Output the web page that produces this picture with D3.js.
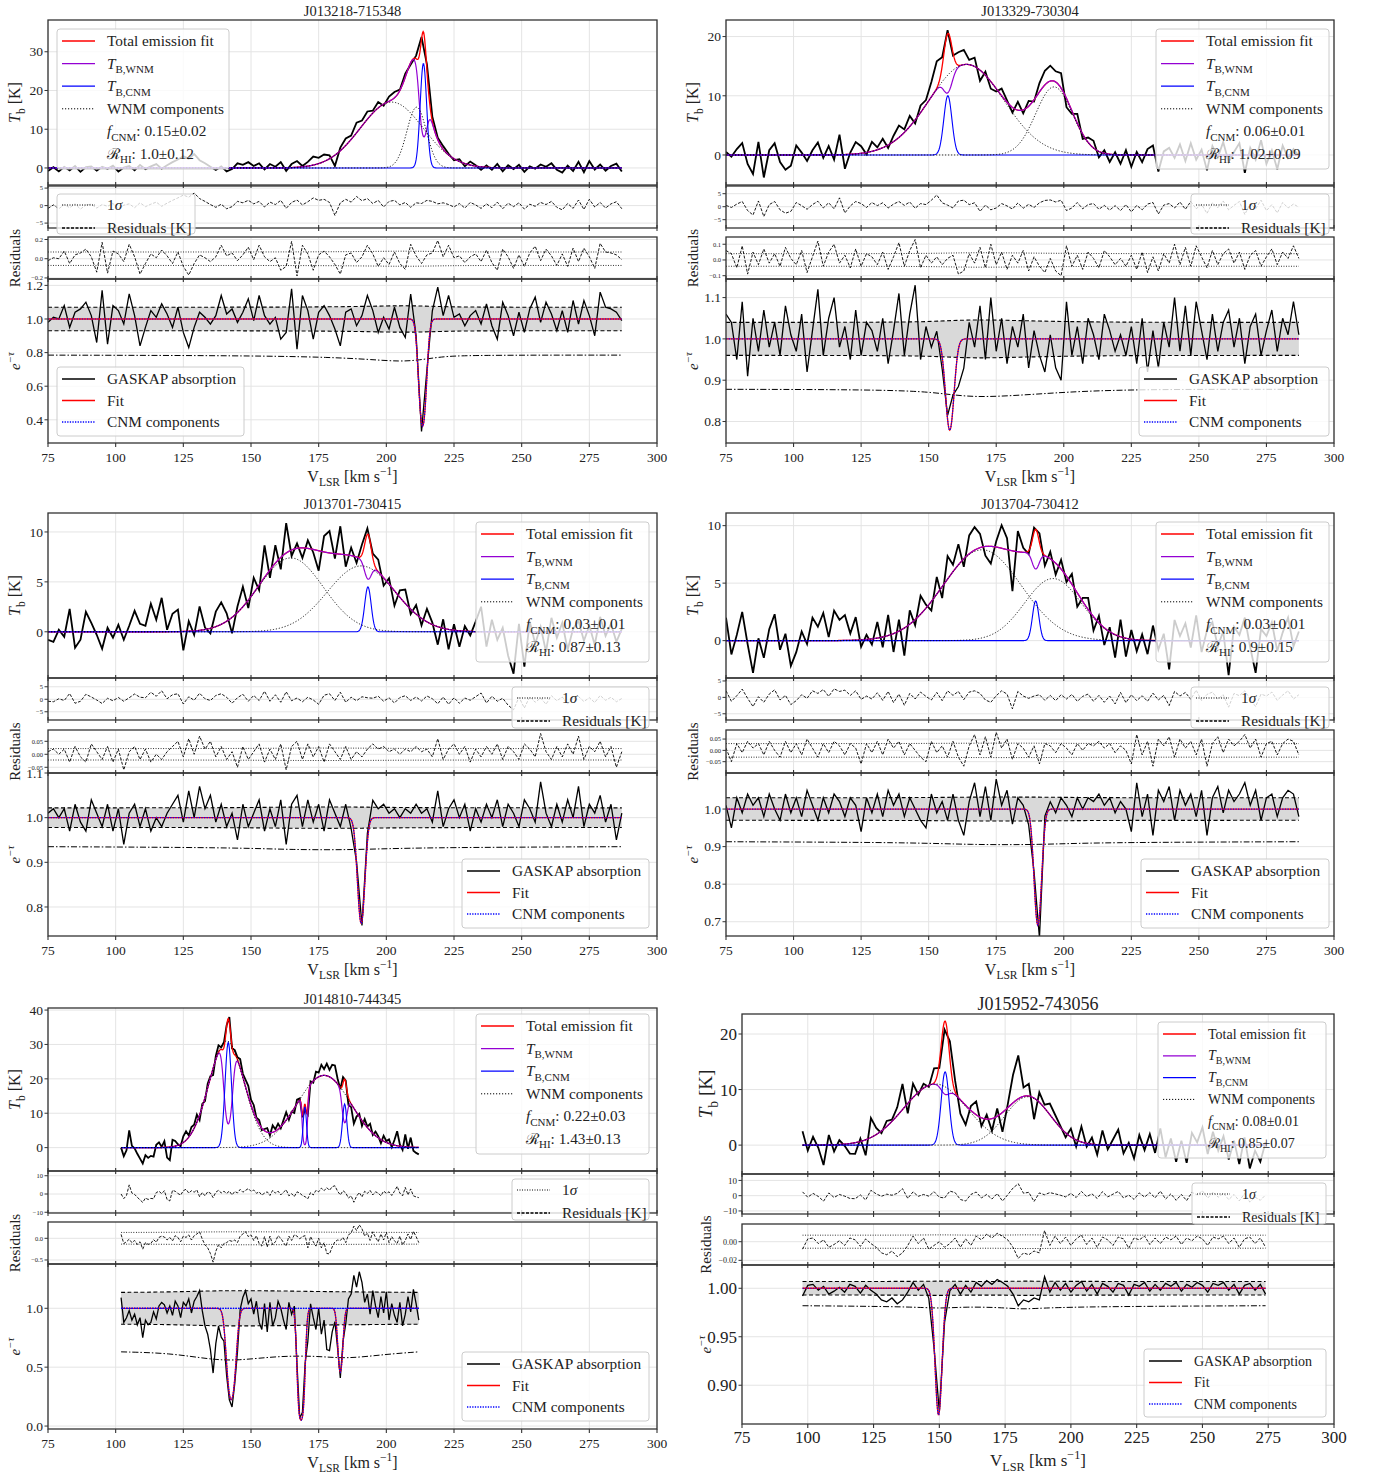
<!DOCTYPE html>
<html>
<head>
<meta charset="utf-8">
<script src="https://cdn.jsdelivr.net/npm/d3@7"></script>
<style>
  body { margin: 0; background: #fff; }
  svg text { font-family: "Liberation Serif", "DejaVu Serif", serif; fill: #222; }
</style>
</head>
<body>
<div id="chart"></div>
<script>
// ---------- data ----------
const titles = ["J013218-715348", "J013329-730304", "J013701-730415", "J013704-730412", "J014810-744345", "J015952-743056"];
const fcnmText = ["0.15±0.02", "0.06±0.01", "0.03±0.01", "0.03±0.01", "0.22±0.03", "0.08±0.01"];
const rhiText = ["1.0±0.12", "1.02±0.09", "0.87±0.13", "0.9±0.15", "1.43±0.13", "0.85±0.07"];

const xTicks = [75, 100, 125, 150, 175, 200, 225, 250, 275, 300];
const emTicks = [[0, 10, 20, 30], [0, 10, 20], [0, 5, 10], [0, 5, 10], [0, 10, 20, 30, 40], [0, 10, 20]];
const res1Ticks = [[-5, 0, 5], [-5, 0, 5], [-5, 0, 5], [-5, 0, 5], [-10, 0, 10], [-10, 0, 10]];
const res2Ticks = [[-0.2, 0, 0.2], [-0.1, 0, 0.1], [-0.05, 0, 0.05], [-0.05, 0, 0.05], [-0.5, 0], [-0.02, 0]];
const absTicks = [[0.4, 0.6, 0.8, 1.0, 1.2], [0.8, 0.9, 1.0, 1.1], [0.8, 0.9, 1.0, 1.1], [0.7, 0.8, 0.9, 1.0], [0, 0.5, 1.0], [0.90, 0.95, 1.00]];

// first channel and channel width (km/s) of each spectrum
const vStart = [75, 75, 75, 75, 102, 98];
const vStep = [2, 2, 2, 2, 1, 2];
// fraction of WNM in front of the CNM
const wnmFront = [0, 0, 0, 0.42, 0, 0];

// Gaussian components: WNM (emission only) and CNM (emission + absorption)
const p1WnmAmp = [17, 15.7], p1WnmV0 = [202, 211.2], p1WnmSig = [11.6, 3.6];
const p1CnmTb = [27], p1CnmV0 = [213.7], p1CnmSig = [1.2], p1CnmTau = [1.02], p1CnmAbsV0 = [213.4], p1CnmAbsSig = [1.2];
const p2WnmAmp = [15.3, 11.5], p2WnmV0 = [164, 196.4], p2WnmSig = [13.8, 6.8];
const p2CnmTb = [10.0], p2CnmV0 = [157.1], p2CnmSig = [1.5], p2CnmTau = [0.25], p2CnmAbsV0 = [157.8], p2CnmAbsSig = [1.5];
const p3WnmAmp = [7.4, 6.6], p3WnmV0 = [164.7, 190.7], p3WnmSig = [12, 12.5];
const p3CnmTb = [4.5], p3CnmV0 = [193.2], p3CnmSig = [1.2], p3CnmTau = [0.27], p3CnmAbsV0 = [190.7], p3CnmAbsSig = [1.3];
const p4WnmAmp = [7.9, 5.4], p4WnmV0 = [169.8, 196], p4WnmSig = [14.5, 10.5];
const p4CnmTb = [3.45], p4CnmV0 = [189.6], p4CnmSig = [1.2], p4CnmTau = [0.37], p4CnmAbsV0 = [190.4], p4CnmAbsSig = [1.3];
const p5WnmAmp = [31, 21], p5WnmV0 = [141, 177], p5WnmSig = [6.5, 10];
const p5CnmTb = [30.6, 11.9, 12.7], p5CnmV0 = [141.6, 169.9, 184.6], p5CnmSig = [1.2, 0.6, 0.8];
const p5CnmTau = [1.5, 3.0, 0.78], p5CnmAbsV0 = [142.7, 168.5, 183], p5CnmAbsSig = [1.3, 0.9, 0.8];
const p6WnmAmp = [11, 8.7], p6WnmV0 = [148.5, 183.6], p6WnmSig = [12, 8.7];
const p6CnmTb = [13.2], p6CnmV0 = [152.2], p6CnmSig = [1.5], p6CnmTau = [0.14], p6CnmAbsV0 = [149.7], p6CnmAbsSig = [1.3];

// emission residuals [K] (data - total fit), one per channel
const p1EmRes = [-0.8, 0.2, -0.9, 0.3, -0.6, 0.5, -1.0, 0.2, 0.4, -0.7,
  0.3, -0.2, 0.6, -0.9, 0.1, 0.5, -0.6, 0.8, -0.3, 0.4,
  1.0, -0.2, 0.7, 1.5, 2.2, 3.0, 2.4, 3.6, 2.0, 1.2,
  0.3, -0.5, 0.4, -0.9, -0.3, 1.2, 0.8, 1.5, 0.5, 1.2,
  -0.4, 1.0, 0.3, 1.5, -0.8, 0.9, 1.6, 0.2, 1.1, 2.2,
  1.5, 1.8, 0.9, -2.8, 0.8, 1.8, 1.0, 2.6, 1.4, 2.0,
  0.6, 1.5, -0.4, 1.2, 1.5, 0.2, 0.9, -0.5, 0.8, 0.6,
  1.5, 1.2, 0.5, 0.8, 0.3, -0.4, 0.6, -0.7, 0.9, 0.2,
  -0.8, 0.5, -0.6, 1.0, -0.9, 0.7, -0.3, 0.8, -1.0, 0.4,
  -0.2, 0.9, 0.3, 1.2, -0.5, -1.2, 0.6, -0.8, 1.6, -1.1,
  1.8, -0.4, 0.9, -0.7, 0.5, 1.1, -0.9];
const p2EmRes = [0.5, -0.3, 1.0, 2.0, -1.5, -3.2, 2.2, -3.8, 0.8, 2.0,
  -1.2, -2.5, -1.8, 1.6, 0.4, -1.0, 0.8, 2.1, -0.5, 1.5,
  -0.8, 3.4, -2.4, 0.3, 2.0, 1.2, -0.3, 1.6, 0.4, 1.5,
  -0.5, 1.0, 2.0, 0.5, 1.8, -0.6, 1.2, 0.8, 2.5, 4.5,
  1.5, 0.6, -0.5, 2.2, 2.5, 0.8, 1.5, -1.8, 0.6, -1.2,
  -0.5, 1.2, 0.3, -0.9, 1.4, -0.6, 0.9, -0.3, 1.5, 2.4,
  2.6, 1.8, 2.5, -1.5, -0.5, 1.6, -0.8, 0.8, 1.2, -1.0,
  0.5, -1.3, 0.4, -1.5, 0.8, -2.0, 0.5, -1.2, 1.0, 1.6,
  -2.8, 0.6, 1.2, -0.5, 1.8, -1.0, 2.0, -0.8, 0.9, -2.6,
  1.5, -0.4, 2.2, -1.2, 0.5, 2.0, -3.0, 1.2, -0.8, 2.5,
  -1.5, 0.8, -2.4, 1.6, -0.5, 1.0, -0.2];
const p3EmRes = [-0.8, -1.0, 0.2, -0.5, 2.3, -1.6, -0.8, 2.0, 0.9, -0.3,
  -1.7, 0.4, -0.6, 0.7, -0.8, 0.6, 2.1, 0.8, 0.6, 2.8,
  1.2, 3.4, 0.2, 1.8, 2.2, -1.9, 1.0, -0.4, 2.4, 0.2,
  -0.5, 1.5, 2.2, 0.8, -1.6, 0.6, 2.0, -0.8, 1.5, -0.5,
  3.2, -0.8, 1.8, -1.2, 3.0, -0.6, 0.5, -1.0, 0.8, -0.3,
  -2.0, 1.6, 2.2, -0.5, 2.8, -1.2, 0.8, -0.6, 1.0, 0.6,
  0.4, 1.2, -0.8, 0.6, -1.5, 0.7, 1.4, -0.5, 0.9, -0.7,
  1.3, 0.2, -1.8, 0.9, -2.0, 0.6, -1.6, 0.5, -0.4, 1.0,
  2.5, -1.5, 1.2, -0.8, 0.4, -2.4, -4.2, 0.8, -3.5, 1.0,
  -1.2, 0.5, -2.0, 1.4, -0.6, 0.9, -1.8, 0.3, 1.1, -0.9,
  0.6, -1.3, 1.5, -0.4, 0.8, -1.0, 0.3];
const p4EmRes = [2.0, -1.2, 0.5, 2.5, -0.3, -2.8, 0.2, -1.5, 1.0, 2.3,
  -0.8, 0.6, -2.2, -1.0, 0.8, -0.3, 2.0, 1.2, 2.4, 0.3,
  2.6, 1.8, 2.2, 0.6, 2.0, -0.6, 0.4, -0.5, 1.4, -0.9,
  1.8, -1.6, 1.0, -2.4, 1.2, -0.5, 1.6, 0.3, -0.8, 1.5,
  -1.0, 2.0, 0.6, 1.8, -0.7, 1.6, 2.0, 1.2, -0.8, -1.5,
  0.5, 2.0, 1.0, -3.5, 1.8, 0.4, -0.3, 0.4, 0.8, -0.9,
  0.6, -1.0, 0.8, -0.5, 0.9, -1.2, 0.3, 1.0, -1.2, 0.6,
  -1.5, 0.4, -2.0, 1.5, -1.6, 0.8, -1.0, 0.5, -1.2, 1.3,
  -0.8, 0.6, -2.5, 1.8, 0.4, 1.5, -0.6, 2.2, -1.0, 0.9,
  1.6, -0.5, 0.8, -3.0, 1.2, 0.5, 2.0, -0.6, -2.8, 1.0,
  0.4, 1.6, -0.9, 0.7, 2.0, -0.5, 0.8];
const p5EmRes = [0.0, -2.5, -0.8, 5.0, 0.5, -0.2, -1.8, -3.2, -4.6, -2.2,
  -3.0, -2.4, -2.6, 0.8, 1.5, 0.2, 1.8, -3.0, -3.8, 2.0,
  1.5, 0.3, -0.6, 1.8, 2.6, 0.5, 1.8, 1.0, 2.2, -1.5,
  0.8, -1.0, 1.2, 0.5, -2.0, 1.0, 2.0, 0.6, 1.5, 0.3,
  1.6, -0.5, 1.4, 0.6, 2.5, 1.0, 2.0, 3.0, 1.5, 2.2,
  0.4, 1.2, -0.6, 0.5, 1.2, -0.8, 2.0, 0.5, 1.6, -0.5,
  1.0, 2.3, -1.0, 0.2, -1.4, 1.2, 0.5, -0.8, -1.5, -2.6,
  0.8, -0.5, 2.0, 1.2, 3.2, 1.8, 3.5, 2.0, 4.0, 4.5,
  1.5, -0.5, 1.8, 0.6, -2.2, -1.0, -4.5, -1.2, 0.8, -1.6,
  1.5, 0.3, 2.0, -0.5, 1.2, 0.5, -1.0, 1.6, 0.4, 1.2,
  -0.8, 1.5, 4.2, 0.5, -1.0, 3.6, -0.5, 2.8, -1.0, -1.6,
  -2.0];
const p6EmRes = [2.5, -1.0, 1.5, -0.5, -3.6, 1.8, -1.2, 0.8, -0.3, -1.8,
  -2.0, 0.5, -2.8, 3.5, 1.2, -0.4, 1.0, 0.3, 1.5, 4.6,
  -1.8, 2.5, -0.4, 0.8, -0.3, 2.6, -1.0, -1.5, 3.0, 2.0,
  -2.5, -3.5, 0.8, 2.4, -1.5, 0.8, -2.2, 1.4, -3.5, 0.6,
  5.0, 7.8, 1.6, 2.2, -3.8, 1.8, 0.6, 2.0, 1.2, 0.3,
  -0.8, 1.5, -1.2, 2.8, -0.6, 1.2, -1.8, 2.6, -0.8, 1.0,
  2.8, -1.5, 0.4, -2.4, 1.8, -0.9, 2.0, -1.4, 3.0, -2.2,
  1.2, -3.0, 0.8, -3.2, 2.2, 0.5, 3.2, -1.6, 2.4, -1.0,
  1.6, -2.6, 0.8, -3.4, 1.4, -4.2, -1.0, -3.0, 0.5];

// absorption residuals (data - fit in e^-tau), one per channel
const p1AbsRes = [-0.02, 0.01, 0.00, 0.08, -0.05, 0.04, 0.06, 0.10, 0.02, -0.14,
  0.17, -0.15, 0.08, 0.05, -0.03, 0.15, 0.02, -0.16, -0.05, 0.05,
  0.01, 0.09, 0.03, -0.05, 0.07, -0.08, -0.17, -0.05, 0.04, 0.01,
  -0.03, 0.02, 0.14, 0.03, 0.06, -0.02, 0.04, 0.12, -0.01, 0.14,
  0.02, -0.03, 0.01, -0.12, -0.08, 0.18, -0.18, 0.14, 0.05, -0.12,
  0.04, 0.08, 0.02, -0.06, -0.16, 0.04, 0.06, -0.04, 0.02, 0.14,
  0.05, -0.08, 0.01, -0.06, 0.07, -0.05, -0.11, 0.15, 0.03, -0.05,
  0.04, 0.06, 0.19, 0.02, 0.14, 0.01, 0.03, -0.04, 0.02, 0.05,
  -0.03, 0.09, -0.04, -0.12, 0.10, 0.02, -0.10, 0.04, -0.08, 0.06,
  0.13, -0.02, 0.10, 0.03, -0.07, 0.05, -0.08, 0.11, -0.03, 0.11,
  0.02, -0.10, 0.16, 0.07, 0.06, 0.04, -0.01];
const p2AbsRes = [0.06, 0.04, -0.05, 0.09, -0.09, 0.05, -0.03, 0.07, -0.02, 0.04,
  -0.04, 0.08, 0.01, -0.03, 0.06, -0.08, 0.02, 0.12, -0.04, 0.05,
  0.10, -0.02, 0.03, -0.05, 0.07, -0.04, 0.04, 0.02, -0.03, 0.05,
  -0.06, 0.02, 0.11, -0.04, 0.06, 0.13, -0.05, 0.03, -0.02, 0.02,
  -0.03, 0.01, 0.03, -0.09, -0.07, 0.04, -0.02, 0.08, -0.05, 0.10,
  -0.03, 0.05, -0.06, 0.03, -0.02, 0.06, -0.07, 0.02, -0.04, -0.08,
  0.01, -0.07, -0.10, 0.09, -0.04, 0.03, -0.06, 0.05, 0.01, -0.05,
  0.06, 0.02, -0.03, 0.01, -0.04, 0.03, -0.06, 0.05, -0.08, 0.02,
  -0.07, 0.04, -0.02, 0.10, -0.03, 0.08, -0.04, 0.09, 0.02, -0.05,
  0.06, -0.03, 0.04, 0.07, -0.02, 0.05, -0.06, 0.03, 0.06, -0.04,
  0.02, 0.07, -0.03, 0.05, 0.01, 0.09, 0.01];
const p3AbsRes = [0.01, 0.02, 0.00, 0.02, -0.03, 0.03, -0.01, -0.03, 0.04, 0.01,
  -0.02, 0.03, -0.03, 0.02, -0.06, 0.01, 0.03, -0.02, 0.02, -0.03,
  0.00, -0.02, 0.01, 0.03, 0.05, -0.01, 0.06, 0.00, 0.07, 0.02,
  0.05, -0.01, 0.03, -0.02, 0.01, -0.05, 0.03, -0.02, 0.01, 0.04,
  -0.03, 0.02, -0.02, 0.04, -0.06, 0.03, 0.05, -0.02, 0.04, -0.01,
  0.03, -0.03, 0.04, 0.01, -0.02, 0.03, -0.02, 0.01, -0.01, 0.02,
  0.04, 0.02, 0.03, 0.01, 0.02, 0.00, 0.02, 0.01, 0.03, 0.01,
  0.02, -0.01, 0.06, -0.02, 0.02, 0.04, 0.00, 0.03, -0.03, 0.02,
  -0.01, 0.03, 0.00, 0.04, -0.02, 0.03, 0.01, -0.02, 0.04, 0.02,
  -0.01, 0.08, 0.01, -0.02, 0.03, -0.01, 0.04, 0.00, 0.07, -0.02,
  0.03, 0.01, 0.05, -0.01, 0.03, -0.05, 0.01];
const p4AbsRes = [0.01, -0.05, 0.03, -0.01, 0.04, 0.01, 0.03, -0.02, 0.04, 0.00,
  -0.03, 0.04, -0.01, 0.03, -0.02, 0.05, 0.01, -0.03, 0.03, -0.01,
  0.04, 0.02, -0.02, 0.03, 0.01, -0.06, 0.03, -0.01, 0.04, -0.02,
  0.05, 0.01, 0.04, -0.02, 0.03, 0.00, -0.03, -0.05, 0.04, -0.01,
  0.02, -0.03, 0.04, -0.03, -0.07, 0.02, 0.07, -0.02, 0.06, -0.03,
  0.08, 0.01, 0.05, -0.04, 0.03, 0.01, -0.03, 0.02, -0.06, 0.03,
  0.02, -0.01, 0.03, 0.01, -0.02, 0.03, 0.00, 0.03, 0.02, 0.04,
  0.01, 0.03, -0.01, 0.02, 0.00, -0.06, 0.07, -0.02, 0.04, -0.07,
  0.05, 0.02, 0.06, -0.03, 0.05, 0.01, 0.04, -0.02, 0.05, -0.07,
  0.03, 0.06, -0.01, 0.05, 0.02, 0.04, 0.07, 0.01, 0.05, -0.03,
  0.03, 0.04, -0.02, 0.03, 0.05, 0.04, -0.02];
const p5AbsRes = [0.09, -0.12, -0.08, -0.02, -0.10, -0.05, -0.14, -0.08, -0.25, -0.10,
  -0.14, -0.12, -0.03, -0.09, 0.02, 0.05, 0.03, -0.04, 0.02, -0.06,
  0.06, 0.02, -0.08, 0.05, 0.02, 0.08, -0.04, 0.06, 0.10, 0.15,
  -0.02, -0.15, -0.22, -0.35, -0.55, -0.30, -0.15, -0.22, -0.12, -0.10,
  -0.05, -0.07, -0.04, -0.10, 0.05, 0.10, 0.15, 0.04, 0.08, -0.05,
  0.06, -0.12, -0.18, 0.04, -0.20, 0.05, -0.15, -0.08, 0.06, 0.00,
  -0.10, -0.18, 0.05, -0.05, 0.08, 0.05, -0.01, 0.04, 0.06, -0.22,
  0.04, -0.08, -0.18, 0.00, -0.22, -0.10, -0.35, -0.36, -0.20, -0.08,
  -0.04, -0.05, 0.02, -0.10, 0.08, 0.12, 0.28, 0.18, 0.31, 0.22,
  0.05, 0.12, -0.05, 0.15, 0.02, -0.08, 0.10, -0.04, 0.14, -0.10,
  0.04, -0.06, -0.12, 0.05, -0.15, -0.05, 0.10, -0.03, 0.16, 0.04,
  -0.10];
const p6AbsRes = [-0.008, 0.003, 0.004, -0.002, 0.002, -0.006, -0.003, 0.001, -0.004, 0.004,
  0.002, -0.005, 0.003, -0.002, -0.006, -0.012, -0.014, -0.010, -0.016, -0.012,
  -0.004, 0.006, -0.002, 0.004, -0.008, -0.004, 0.000, -0.006, -0.002, 0.004,
  -0.006, 0.003, -0.004, 0.006, 0.002, 0.008, 0.004, 0.009, 0.006, 0.002,
  -0.006, -0.018, -0.012, -0.014, -0.010, -0.012, 0.012, -0.004, 0.006, -0.002,
  0.005, -0.004, 0.003, 0.007, -0.003, 0.004, -0.006, 0.005, 0.002, -0.004,
  0.005, 0.003, -0.007, 0.004, 0.002, 0.006, -0.003, 0.004, -0.002, 0.005,
  0.002, 0.006, -0.003, 0.004, 0.001, 0.006, 0.003, -0.004, 0.005, 0.003,
  0.006, -0.002, 0.004, -0.006, 0.003, 0.005, -0.002, 0.004, -0.006];

// absorption noise envelope: 1-sigma and the dash-dot floor, at a few velocities
const p1SigV = [75, 150, 180, 195, 205, 212, 220, 230, 287];
const p1Sig = [0.07, 0.07, 0.072, 0.076, 0.079, 0.078, 0.074, 0.07, 0.07];
const p1Floor = [0.785, 0.782, 0.772, 0.758, 0.747, 0.755, 0.775, 0.785, 0.785];
const p2SigV = [75, 140, 155, 167, 185, 200, 225, 287];
const p2Sig = [0.04, 0.04, 0.043, 0.047, 0.044, 0.042, 0.04, 0.04];
const p2Floor = [0.878, 0.877, 0.868, 0.858, 0.864, 0.871, 0.878, 0.878];
const p3SigV = [75, 145, 165, 190, 210, 287];
const p3Sig = [0.022, 0.022, 0.024, 0.024, 0.022, 0.022];
const p3Floor = [0.935, 0.933, 0.928, 0.928, 0.933, 0.935];
const p4SigV = [75, 145, 165, 192, 210, 287];
const p4Sig = [0.03, 0.03, 0.032, 0.032, 0.03, 0.03];
const p4Floor = [0.913, 0.911, 0.905, 0.905, 0.911, 0.913];
const p5SigV = [102, 120, 135, 145, 160, 175, 185, 200, 212];
const p5Sig = [0.135, 0.138, 0.148, 0.15, 0.148, 0.142, 0.14, 0.137, 0.135];
const p5Floor = [0.63, 0.62, 0.565, 0.555, 0.595, 0.595, 0.57, 0.61, 0.63];
const p6SigV = [98, 140, 150, 160, 175, 182, 195, 274];
const p6Sig = [0.007, 0.007, 0.0075, 0.007, 0.007, 0.0075, 0.007, 0.007];
const p6Floor = [0.982, 0.981, 0.979, 0.981, 0.98, 0.978, 0.981, 0.982];

// ---------- layout ----------
const layout = [
  { x0: 48, x1: 657, em: [20, 185], r1: [186, 228], r2: [237, 279], ab: [279, 443],
    emDom: [-4.4, 38.2], r1Dom: [-6.4, 5.6], r2Dom: [-0.211, 0.226], abDom: [0.262, 1.238], r2Fmt: ".1f", abFmt: ".1f",
    legEm: [57, 29, 172, 140], legR: [57, 194, 138, 40], legA: [57, 367, 187, 69], labX: 15, big: false },
  { x0: 726, x1: 1334, em: [20, 185], r1: [186, 228], r2: [237, 279], ab: [279, 443],
    emDom: [-5.07, 22.8], r1Dom: [-8.2, 7.96], r2Dom: [-0.121, 0.146], abDom: [0.748, 1.145], r2Fmt: ".1f", abFmt: ".1f",
    legEm: [1156, 29, 173, 140], legR: [1191, 194, 138, 40], legA: [1139, 367, 190, 69], labX: 693, big: false },
  { x0: 48, x1: 657, em: [513, 678], r1: [678, 720], r2: [730, 773], ab: [773, 936],
    emDom: [-4.63, 11.9], r1Dom: [-8.3, 8.5], r2Dom: [-0.072, 0.0935], abDom: [0.735, 1.1], r2Fmt: ".2f", abFmt: ".1f",
    legEm: [476, 522, 173, 140], legR: [512, 687, 137, 41], legA: [462, 859, 187, 69], labX: 15, big: false },
  { x0: 726, x1: 1334, em: [513, 678], r1: [678, 720], r2: [730, 773], ab: [773, 936],
    emDom: [-3.25, 11.1], r1Dom: [-6.9, 5.9], r2Dom: [-0.1, 0.09], abDom: [0.662, 1.096], r2Fmt: ".2f", abFmt: ".1f",
    legEm: [1156, 522, 173, 140], legR: [1191, 687, 138, 41], legA: [1141, 859, 188, 69], labX: 693, big: false },
  { x0: 48, x1: 657, em: [1008, 1171], r1: [1171, 1213], r2: [1222, 1264], ab: [1264, 1429],
    emDom: [-6.8, 40.6], r1Dom: [-10.4, 12.6], r2Dom: [-0.593, 0.376], abDom: [-0.025, 1.376], r2Fmt: ".1f", abFmt: ".1f",
    legEm: [476, 1014, 173, 140], legR: [512, 1179, 137, 41], legA: [462, 1352, 187, 69], labX: 15, big: false },
  { x0: 742, x1: 1334, em: [1014, 1174], r1: [1174, 1214], r2: [1224, 1265], ab: [1265, 1424],
    emDom: [-5.2, 23.6], r1Dom: [-12, 14.2], r2Dom: [-0.025, 0.019], abDom: [0.860, 1.024], r2Fmt: ".2f", abFmt: ".2f",
    legEm: [1158, 1022, 168, 136], legR: [1192, 1183, 134, 41], legA: [1144, 1349, 182, 68], labX: 706, big: true }
];

const models = [
  { wAmp: p1WnmAmp, wV0: p1WnmV0, wSig: p1WnmSig, cTb: p1CnmTb, cV0: p1CnmV0, cSig: p1CnmSig, cTau: p1CnmTau, cAbsV0: p1CnmAbsV0, cAbsSig: p1CnmAbsSig, emRes: p1EmRes, absRes: p1AbsRes, sigV: p1SigV, sig: p1Sig, floor: p1Floor },
  { wAmp: p2WnmAmp, wV0: p2WnmV0, wSig: p2WnmSig, cTb: p2CnmTb, cV0: p2CnmV0, cSig: p2CnmSig, cTau: p2CnmTau, cAbsV0: p2CnmAbsV0, cAbsSig: p2CnmAbsSig, emRes: p2EmRes, absRes: p2AbsRes, sigV: p2SigV, sig: p2Sig, floor: p2Floor },
  { wAmp: p3WnmAmp, wV0: p3WnmV0, wSig: p3WnmSig, cTb: p3CnmTb, cV0: p3CnmV0, cSig: p3CnmSig, cTau: p3CnmTau, cAbsV0: p3CnmAbsV0, cAbsSig: p3CnmAbsSig, emRes: p3EmRes, absRes: p3AbsRes, sigV: p3SigV, sig: p3Sig, floor: p3Floor },
  { wAmp: p4WnmAmp, wV0: p4WnmV0, wSig: p4WnmSig, cTb: p4CnmTb, cV0: p4CnmV0, cSig: p4CnmSig, cTau: p4CnmTau, cAbsV0: p4CnmAbsV0, cAbsSig: p4CnmAbsSig, emRes: p4EmRes, absRes: p4AbsRes, sigV: p4SigV, sig: p4Sig, floor: p4Floor },
  { wAmp: p5WnmAmp, wV0: p5WnmV0, wSig: p5WnmSig, cTb: p5CnmTb, cV0: p5CnmV0, cSig: p5CnmSig, cTau: p5CnmTau, cAbsV0: p5CnmAbsV0, cAbsSig: p5CnmAbsSig, emRes: p5EmRes, absRes: p5AbsRes, sigV: p5SigV, sig: p5Sig, floor: p5Floor },
  { wAmp: p6WnmAmp, wV0: p6WnmV0, wSig: p6WnmSig, cTb: p6CnmTb, cV0: p6CnmV0, cSig: p6CnmSig, cTau: p6CnmTau, cAbsV0: p6CnmAbsV0, cAbsSig: p6CnmAbsSig, emRes: p6EmRes, absRes: p6AbsRes, sigV: p6SigV, sig: p6Sig, floor: p6Floor }
];

const RED = "#ff0000", PURPLE = "#9400d3", BLUE = "#0000ff", GRID = "#e4e4e4", SPINE = "#333";

const svg = d3.select("#chart").append("svg")
  .attr("width", 1374).attr("height", 1474);

// text with italic / sub / superscript pieces
function rich(sel, x, y, segs, fs, anchor) {
  const t = sel.append("text").attr("x", x).attr("y", y)
    .attr("font-size", fs).attr("text-anchor", anchor || "start");
  let shift = 0;
  segs.forEach(s => {
    const target = s.sub ? fs * 0.28 : s.sup ? -fs * 0.42 : 0;
    const ts = t.append("tspan").text(s.t).attr("dy", target - shift);
    if (s.sub || s.sup) ts.attr("font-size", fs * 0.72);
    if (s.i) ts.attr("font-style", "italic");
    shift = target;
  });
  return t;
}

function legend(g, box, rows, fs, step, first) {
  const [bx, by, bw, bh] = box;
  const lg = g.append("g");
  lg.append("rect").attr("x", bx).attr("y", by).attr("width", bw).attr("height", bh)
    .attr("rx", 3).attr("fill", "#fff").attr("fill-opacity", 0.8)
    .attr("stroke", "#cccccc").attr("stroke-width", 1);
  rows.forEach((r, i) => {
    const yy = by + first + i * step;
    if (r.stroke) {
      lg.append("line").attr("x1", bx + 5).attr("x2", bx + 38).attr("y1", yy).attr("y2", yy)
        .attr("stroke", r.stroke).attr("stroke-width", r.w || 1.3)
        .attr("stroke-dasharray", r.dash || null);
    }
    rich(lg, bx + 50, yy + fs * 0.33, r.label, fs);
  });
}

let clipId = 0;
function drawPanel(m, L, idx) {
  const g = svg.append("g");
  const fsTick = L.big ? 17 : 13.5, fsSmall = L.big ? 8 : 6.5, fsLab = 16;
  const fsLeg = L.big ? 14 : 15.3;
  const x = d3.scaleLinear().domain([75, 300]).range([L.x0, L.x1]);
  const yE = d3.scaleLinear().domain(L.emDom).range([L.em[1], L.em[0]]);
  const yR1 = d3.scaleLinear().domain(L.r1Dom).range([L.r1[1], L.r1[0]]);
  const yR2 = d3.scaleLinear().domain(L.r2Dom).range([L.r2[1], L.r2[0]]);
  const yA = d3.scaleLinear().domain(L.abDom).range([L.ab[1], L.ab[0]]);

  // spectra and Gaussian model
  const vData = m.emRes.map((_, i) => vStart[idx] + i * vStep[idx]);
  const vLast = vData[vData.length - 1];
  const vFine = d3.range(vStart[idx], vLast + 1e-9, 0.2);
  const gauss = (v, a, c, s) => a * Math.exp(-((v - c) * (v - c)) / (2 * s * s));
  const wnmSum = v => d3.sum(m.wAmp, (a, i) => gauss(v, a, m.wV0[i], m.wSig[i]));
  const tauEm = v => d3.sum(m.cTau, (t, j) => gauss(v, t, m.cV0[j], m.cSig[j]));
  const tbWnm = v => wnmSum(v) * (wnmFront[idx] + (1 - wnmFront[idx]) * Math.exp(-tauEm(v)));
  const tbCnm = v => d3.sum(m.cTb, (a, j) => gauss(v, a, m.cV0[j], m.cSig[j]));
  const total = v => tbWnm(v) + tbCnm(v);
  const tauAb = v => d3.sum(m.cTau, (t, j) => gauss(v, t, m.cAbsV0[j], m.cAbsSig[j]));
  const absFit = v => Math.exp(-tauAb(v));
  const emData = vData.map((v, i) => [v, total(v) + m.emRes[i]]);
  const abData = vData.map((v, i) => [v, absFit(v) + m.absRes[i]]);

  const subs = [
    { r: L.em, y: yE, ticks: emTicks[idx], fmt: d3.format("d"), fs: fsTick },
    { r: L.r1, y: yR1, ticks: res1Ticks[idx], fmt: d => d3.format("d")(d).replace("-", "\u2212"), fs: L.big ? 9 : fsSmall },
    { r: L.r2, y: yR2, ticks: res2Ticks[idx], fmt: d => d3.format(L.r2Fmt)(d).replace("-", "\u2212"), fs: fsSmall },
    { r: L.ab, y: yA, ticks: absTicks[idx], fmt: d3.format(L.abFmt), fs: fsTick }
  ];
  const layers = subs.map(s => {
    const id = "clip" + (clipId++);
    g.append("clipPath").attr("id", id).append("rect")
      .attr("x", L.x0).attr("y", s.r[0]).attr("width", L.x1 - L.x0).attr("height", s.r[1] - s.r[0]);
    // grid
    g.append("g").selectAll("line").data(xTicks).join("line")
      .attr("x1", d => x(d)).attr("x2", d => x(d)).attr("y1", s.r[0]).attr("y2", s.r[1])
      .attr("stroke", GRID).attr("stroke-width", 1);
    g.append("g").selectAll("line").data(s.ticks).join("line")
      .attr("x1", L.x0).attr("x2", L.x1).attr("y1", d => s.y(d)).attr("y2", d => s.y(d))
      .attr("stroke", GRID).attr("stroke-width", 1);
    return g.append("g").attr("clip-path", `url(#${id})`);
  });
  const [gE, gR1, gR2, gA] = layers;

  const lineE = d3.line().x(d => x(d[0])).y(d => yE(d[1]));
  const fn = (f) => vFine.map(v => [v, f(v)]);

  // emission
  gE.append("path").attr("d", lineE(emData)).attr("fill", "none").attr("stroke", "#000").attr("stroke-width", 1.8);
  gE.append("path").attr("d", lineE(fn(total))).attr("fill", "none").attr("stroke", RED).attr("stroke-width", 1.3);
  gE.append("path").attr("d", lineE(fn(tbWnm))).attr("fill", "none").attr("stroke", PURPLE).attr("stroke-width", 1.2);
  gE.append("path").attr("d", lineE(fn(tbCnm))).attr("fill", "none").attr("stroke", BLUE).attr("stroke-width", 1.1);
  m.wAmp.forEach((a, i) => {
    gE.append("path").attr("d", lineE(fn(v => gauss(v, a, m.wV0[i], m.wSig[i]))))
      .attr("fill", "none").attr("stroke", "#000").attr("stroke-width", 0.9).attr("stroke-dasharray", "1.2,1.8");
  });

  // emission residuals
  const lineR1 = d3.line().x(d => x(d[0])).y(d => yR1(d[1]));
  gR1.append("path").attr("d", lineR1(vData.map((v, i) => [v, m.emRes[i]])))
    .attr("fill", "none").attr("stroke", "#000").attr("stroke-width", 0.9).attr("stroke-dasharray", "3,1.5");

  // absorption residuals with +-1 sigma
  const sigAt = m.sigV.map((v, i) => [v, m.sig[i]]);
  const lineR2 = d3.line().x(d => x(d[0])).y(d => yR2(d[1])).curve(d3.curveBasis);
  [1, -1].forEach(sg => {
    gR2.append("path").attr("d", lineR2(sigAt.map(d => [d[0], sg * d[1]])))
      .attr("fill", "none").attr("stroke", "#000").attr("stroke-width", 0.8).attr("stroke-dasharray", "1,1.5");
  });
  gR2.append("path").attr("d", d3.line().x(d => x(d[0])).y(d => yR2(d[1]))(vData.map((v, i) => [v, m.absRes[i]])))
    .attr("fill", "none").attr("stroke", "#000").attr("stroke-width", 0.9).attr("stroke-dasharray", "3,1.5");

  // absorption
  gA.append("path").attr("d", d3.area().x(d => x(d[0])).y0(d => yA(1 - d[1])).y1(d => yA(1 + d[1])).curve(d3.curveBasis)(sigAt))
    .attr("fill", "#d9d9d9");
  const lineAc = d3.line().x(d => x(d[0])).y(d => yA(d[1])).curve(d3.curveBasis);
  [1, -1].forEach(sg => {
    gA.append("path").attr("d", lineAc(sigAt.map(d => [d[0], 1 + sg * d[1]])))
      .attr("fill", "none").attr("stroke", "#000").attr("stroke-width", 1.1).attr("stroke-dasharray", "4,2.5");
  });
  const lineA = d3.line().x(d => x(d[0])).y(d => yA(d[1]));
  gA.append("path").attr("d", lineA(abData)).attr("fill", "none").attr("stroke", "#000").attr("stroke-width", 1.3);
  gA.append("path").attr("d", lineAc(m.sigV.map((v, i) => [v, m.floor[i]])))
    .attr("fill", "none").attr("stroke", "#000").attr("stroke-width", 1).attr("stroke-dasharray", "6,2,1.5,2");
  gA.append("path").attr("d", lineA(fn(absFit))).attr("fill", "none").attr("stroke", RED).attr("stroke-width", 1.3);
  m.cTau.forEach((t, j) => {
    gA.append("path").attr("d", lineA(fn(v => Math.exp(-gauss(v, t, m.cAbsV0[j], m.cAbsSig[j])))))
      .attr("fill", "none").attr("stroke", BLUE).attr("stroke-width", 1.2).attr("stroke-dasharray", "1.3,1.3");
  });

  // spines, ticks, tick labels
  subs.forEach((s, k) => {
    g.append("rect").attr("x", L.x0).attr("y", s.r[0]).attr("width", L.x1 - L.x0).attr("height", s.r[1] - s.r[0])
      .attr("fill", "none").attr("stroke", SPINE).attr("stroke-width", 1.3);
    g.append("g").selectAll("line").data(s.ticks).join("line")
      .attr("x1", L.x0 - 3.5).attr("x2", L.x0).attr("y1", d => s.y(d)).attr("y2", d => s.y(d))
      .attr("stroke", SPINE).attr("stroke-width", 1);
    g.append("g").selectAll("text").data(s.ticks).join("text")
      .attr("x", L.x0 - 5).attr("y", d => s.y(d)).attr("dy", "0.35em")
      .attr("text-anchor", "end").attr("font-size", s.fs).text(s.fmt);
    const outer = k === 3;
    g.append("g").selectAll("line").data(xTicks).join("line")
      .attr("x1", d => x(d)).attr("x2", d => x(d))
      .attr("y1", s.r[1] - (outer ? 0 : 3)).attr("y2", s.r[1] + (outer ? 4 : 3))
      .attr("stroke", SPINE).attr("stroke-width", 1.1);
  });
  g.append("g").selectAll("text").data(xTicks).join("text")
    .attr("x", d => x(d)).attr("y", L.ab[1] + (L.big ? 13 : 14)).attr("dy", "0.35em")
    .attr("text-anchor", "middle").attr("font-size", fsTick).text(d => d);

  // labels
  const cx = (L.x0 + L.x1) / 2;
  g.append("text").attr("x", cx).attr("y", L.em[0] - 4).attr("text-anchor", "middle")
    .attr("font-size", L.big ? 18 : 14.5).text(titles[idx]);
  rich(g, cx, L.ab[1] + (L.big ? 42 : 39), [{ t: "V" }, { t: "LSR", sub: 1 }, { t: " [km s" }, { t: "\u22121", sup: 1 }, { t: "]" }], L.big ? 17 : fsLab, "middle");
  const rot = (yc, segs, fs) => rich(g.append("g").attr("transform", `translate(${L.labX},${yc}) rotate(-90)`), 0, fs * 0.33, segs, fs, "middle");
  rot((L.em[0] + L.em[1]) / 2, [{ t: "T", i: 1 }, { t: "b", sub: 1 }, { t: " [K]" }], L.big ? 19 : fsLab);
  rot((L.r2[0] + L.r2[1]) / 2, [{ t: "Residuals" }], 15);
  rot((L.ab[0] + L.ab[1]) / 2, [{ t: "e", i: 1 }, { t: "\u2212\u03c4", sup: 1, i: 1 }], 15);

  // legends
  legend(g, L.legEm, [
    { stroke: RED, label: [{ t: "Total emission fit" }] },
    { stroke: PURPLE, label: [{ t: "T", i: 1 }, { t: "B,WNM", sub: 1 }] },
    { stroke: BLUE, label: [{ t: "T", i: 1 }, { t: "B,CNM", sub: 1 }] },
    { stroke: "#000", dash: "1.2,1.8", w: 1, label: [{ t: "WNM components" }] },
    { label: [{ t: "f", i: 1 }, { t: "CNM", sub: 1 }, { t: ": " + fcnmText[idx] }] },
    { label: [{ t: "\u211b" }, { t: "HI", sub: 1 }, { t: ": " + rhiText[idx] }] }
  ], fsLeg, L.big ? 21.8 : 22.6, 12);
  legend(g, L.legR, [
    { stroke: "#000", dash: "1,1.5", w: 1, label: [{ t: "1" }, { t: "\u03c3", i: 1 }] },
    { stroke: "#000", dash: "3,1.5", w: 1.3, label: [{ t: "Residuals [K]" }] }
  ], fsLeg, 23, 11);
  legend(g, L.legA, [
    { stroke: "#000", w: 1.5, label: [{ t: "GASKAP absorption" }] },
    { stroke: RED, label: [{ t: "Fit" }] },
    { stroke: BLUE, dash: "1.3,1.3", w: 1.3, label: [{ t: "CNM components" }] }
  ], fsLeg, 21.5, 12);
}

models.forEach((m, i) => drawPanel(m, layout[i], i));
</script>
</body>
</html>
